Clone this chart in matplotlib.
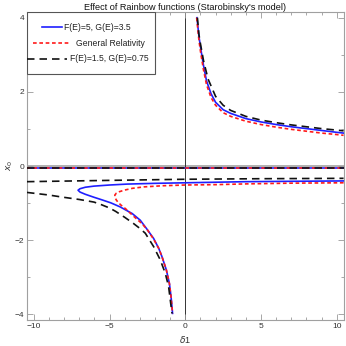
import matplotlib
matplotlib.use("Agg")
import matplotlib.pyplot as plt
from matplotlib.ticker import MultipleLocator
from matplotlib.lines import Line2D
from matplotlib.patches import Rectangle

plt.rcParams['font.family'] = ['Liberation Sans', 'DejaVu Sans']

# ---- data ----
# constant solution (all three models coincide)
const_x = [-10.45, 10.45]
const_y = [-0.04, -0.04]

# F(E)=5, G(E)=3.5  (blue)
blue_up_x = [0.77, 0.9, 1.0, 1.2, 1.4, 1.7, 2.0, 2.5, 3.0, 4.0, 5.0, 6.0, 7.0, 8.0, 9.0, 10.0, 10.45]
blue_up_y = [4.0, 3.5, 3.22, 2.72, 2.3, 1.95, 1.72, 1.52, 1.42, 1.28, 1.19, 1.12, 1.06, 1.01, 0.96, 0.91, 0.89]
blue_lo_x = [10.45, 7, 4, 2, 0, -2, -3.83, -5, -6.03, -6.6, -6.95, -7.08, -6.95, -6.6, -6.03, -5.5,
             -4.92, -4.3, -3.5, -2.97, -2.53, -2.09, -1.75, -1.54, -1.25, -1.05, -0.94, -0.84]
blue_lo_y = [-0.40, -0.41, -0.42, -0.435, -0.45, -0.465, -0.485, -0.51, -0.54, -0.57, -0.61, -0.65,
             -0.70, -0.76, -0.84, -0.91, -0.99, -1.1, -1.28, -1.46, -1.70, -1.95, -2.22, -2.44,
             -2.80, -3.16, -3.52, -3.97]

# General Relativity (red)
red_up_x = [0.75, 0.9, 1.0, 1.2, 1.4, 1.7, 2.0, 2.5, 3.0, 4.0, 5.0, 6.0, 7.0, 8.0, 9.0, 10.0, 10.45]
red_up_y = [4.0, 3.4, 3.1, 2.6, 2.2, 1.85, 1.64, 1.44, 1.34, 1.21, 1.12, 1.05, 0.99, 0.94, 0.89, 0.85, 0.83]
red_lo_x = [10.45, 7, 4, 2, 0, -1.5, -2.72, -3.5, -4.04, -4.35, -4.55, -4.65, -4.64, -4.56, -4.45,
            -4.25, -3.94, -3.63, -3.2, -2.86, -2.5, -2.09, -1.75, -1.54, -1.25, -1.05, -0.94, -0.84]
red_lo_y = [-0.45, -0.46, -0.48, -0.50, -0.51, -0.53, -0.56, -0.6, -0.65, -0.69, -0.73, -0.78,
            -0.84, -0.91, -0.97, -1.05, -1.15, -1.27, -1.43, -1.55, -1.72, -1.97, -2.22, -2.44,
            -2.80, -3.16, -3.52, -3.97]

# F(E)=1.5, G(E)=0.75 (black)
blk_up_x = [0.8, 0.9, 1.0, 1.2, 1.5, 2.0, 2.5, 3.0, 4.0, 5.0, 6.0, 7.0, 8.0, 9.0, 10.0, 10.45]
blk_up_y = [4.0, 3.55, 3.3, 2.85, 2.35, 1.88, 1.64, 1.5, 1.34, 1.24, 1.17, 1.11, 1.06, 1.01, 0.97, 0.95]
blk_mid_x = [-10.45, -5, 0, 5, 10.45]
blk_mid_y = [-0.42, -0.385, -0.355, -0.34, -0.33]
blk_lo_x = [-10.45, -9, -8.22, -7, -6.03, -5.6, -5.0, -4.6, -4.0, -3.41, -3.0, -2.64, -2.09, -1.65,
            -1.32, -1.1, -0.99, -0.88]
blk_lo_y = [-0.71, -0.78, -0.83, -0.9, -0.97, -1.03, -1.13, -1.22, -1.38, -1.55, -1.68, -1.81,
            -2.17, -2.53, -2.89, -3.25, -3.61, -3.97]

labels = ["F(E)=5, G(E)=3.5", "General Relativity", "F(E)=1.5, G(E)=0.75"]
xticks = [-10, -5, 0, 5, 10]
yticks = [-4, -2, 0, 2, 4]

BLUE = '#1f1fff'
RED = '#ff1a1a'
BLK = '#111111'

fig = plt.figure(figsize=(3.46, 3.46), dpi=100)
ax = fig.add_axes([0.078, 0.075, 0.915, 0.891])

ax.axhline(0, color='#b0b0b0', lw=1.4, zorder=1)
ax.axvline(0, color='#333333', lw=0.7, zorder=1)

lw = 1.2
red_dash = (0, (2.2, 1.6))
blk_dash = (0, (4.5, 3.0))

ax.plot(const_x, const_y, color=BLUE, lw=lw, zorder=3)
ax.plot(const_x, const_y, color=RED, lw=lw, ls=red_dash, zorder=4)
ax.plot(const_x, const_y, color=BLK, lw=lw, ls=blk_dash, zorder=5)

ax.plot(blue_up_x, blue_up_y, color=BLUE, lw=lw, zorder=3)
ax.plot(blue_lo_x, blue_lo_y, color=BLUE, lw=lw, zorder=3)
ax.plot(red_up_x, red_up_y, color=RED, lw=lw, ls=red_dash, zorder=4)
ax.plot(red_lo_x, red_lo_y, color=RED, lw=lw, ls=red_dash, zorder=4)
ax.plot(blk_up_x, blk_up_y, color=BLK, lw=lw, ls=blk_dash, zorder=5)
ax.plot(blk_mid_x, blk_mid_y, color=BLK, lw=lw, ls=blk_dash, zorder=5)
ax.plot(blk_lo_x, blk_lo_y, color=BLK, lw=lw, ls=blk_dash, zorder=5)

ax.set_xlim(-10.45, 10.45)
ax.set_ylim(-4.15, 4.16)
ax.set_xticks(xticks)
ax.set_yticks(yticks)
ax.xaxis.set_minor_locator(MultipleLocator(1))
ax.yaxis.set_minor_locator(MultipleLocator(1))
ax.tick_params(which='both', direction='in', top=True, right=True, color='#999999',
               labelcolor='#333333', labelsize=6, width=0.6, pad=2)
ax.tick_params(which='major', length=4)
ax.tick_params(which='minor', length=2.3)
for s in ax.spines.values():
    s.set_color('#a0a0a0')
    s.set_linewidth(0.8)

ax.set_xlabel(r'$\delta$1', fontsize=6.5, color='#333333', labelpad=3)
ax.set_ylabel(r'$x_0$', fontsize=6.5, color='#333333', labelpad=0)
ax.set_title("Effect of Rainbow functions (Starobinsky's model)", fontsize=6.6, pad=1.5,
             color='#111111')

# legend (manual, Mathematica-style centred rows)
lw_frac, lh_frac = 0.404, 0.202
ax.add_patch(Rectangle((0, 1 - lh_frac), lw_frac, lh_frac, transform=ax.transAxes,
                       facecolor='white', edgecolor='#555555', lw=0.8, zorder=10))
rows = [
    (0.950, 0.047, 0.111, 0.117, BLUE, '-'),
    (0.898, 0.019, 0.137, 0.156, RED, red_dash),
    (0.847, 0.0, 0.126, 0.137, BLK, blk_dash),
]
for (yy, x0, x1, xt, c, ls), lab in zip(rows, labels):
    ax.add_line(Line2D([x0, x1], [yy, yy], transform=ax.transAxes, color=c, lw=lw,
                       ls=ls, zorder=11))
    ax.text(xt, yy, lab, transform=ax.transAxes, fontsize=6.2, va='center', ha='left',
            color='#222222', zorder=11)

fig.savefig('out.png', dpi=100)
